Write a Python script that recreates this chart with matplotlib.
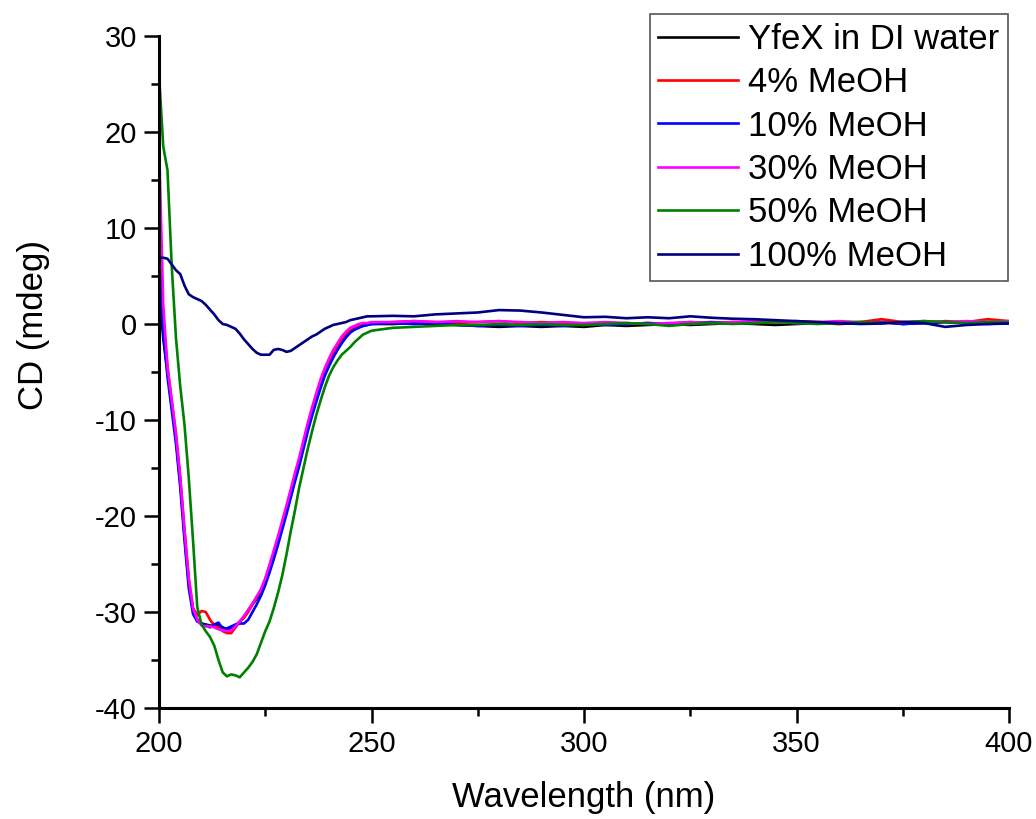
import matplotlib
matplotlib.use("Agg")
import matplotlib.pyplot as plt
from matplotlib.ticker import MultipleLocator

plt.rcParams['font.family'] = ['Liberation Sans', 'DejaVu Sans']
plt.rcParams['axes.unicode_minus'] = False

# Wavelength grid (nm)
wavelength = list(range(200, 251)) + list(range(255, 401, 5))

di_water = [4.0, -1.5, -5.0, -8.5, -12.0, -16.5, -22.0, -27.0, -29.8, -30.8,
            -31.2, -31.3, -31.4, -31.5, -31.3, -31.6, -31.8, -31.7, -31.4, -31.0,
            -30.5, -29.8, -29.2, -28.6, -27.9, -26.8, -25.5, -24.0, -22.5, -21.0,
            -19.3, -17.6, -16.0, -14.4, -12.6, -10.8, -9.2, -7.8, -6.4, -5.2,
            -4.2, -3.3, -2.6, -1.9, -1.3, -0.8, -0.5, -0.3, -0.2, -0.1, 0.0,
            0.0, 0.1, 0.0, -0.1, -0.2, -0.3, -0.2, -0.3, -0.2, -0.3,
            -0.1, -0.2, -0.1, 0.0, -0.1, 0.0, 0.1, 0.0, -0.1, 0.0,
            0.1, 0.0, 0.1, 0.2, 0.0, 0.1, 0.2, 0.1, 0.2, 0.1]

meoh_4 = [12.0, 0.5, -4.5, -8.0, -11.5, -16.0, -21.5, -26.5, -29.6, -30.3,
          -29.9, -30.0, -30.8, -31.4, -31.6, -32.0, -32.2, -32.2, -31.6, -31.0,
          -30.6, -30.0, -29.2, -28.4, -27.8, -26.6, -25.2, -23.8, -22.3, -20.8,
          -19.2, -17.5, -15.8, -14.2, -12.4, -10.6, -9.0, -7.6, -6.2, -5.0,
          -4.0, -3.1, -2.4, -1.7, -1.1, -0.7, -0.4, -0.2, -0.1, 0.0, 0.1,
          0.2, 0.3, 0.2, 0.1, 0.2, 0.3, 0.1, 0.2, 0.1, 0.0,
          0.1, 0.0, 0.1, 0.0, 0.2, 0.1, 0.2, 0.1, 0.2, 0.3,
          0.2, 0.1, 0.2, 0.5, 0.2, 0.1, 0.3, 0.2, 0.5, 0.3]

meoh_10 = [10.5, -1.0, -5.5, -9.0, -12.5, -17.0, -22.5, -27.5, -30.2, -31.0,
           -31.2, -31.4, -31.6, -31.3, -31.1, -31.8, -31.7, -31.5, -31.3, -31.2,
           -31.2, -30.8, -30.0, -29.2, -28.3, -27.2, -25.9, -24.5, -23.0, -21.4,
           -19.8, -18.1, -16.4, -14.8, -13.0, -11.2, -9.6, -8.1, -6.7, -5.4,
           -4.4, -3.5, -2.7, -2.0, -1.4, -0.9, -0.6, -0.4, -0.2, -0.1, 0.0,
           0.1, 0.0, 0.1, -0.1, -0.2, -0.1, -0.2, -0.1, -0.2, 0.0,
           -0.1, 0.0, 0.1, 0.0, 0.1, 0.2, 0.1, 0.2, 0.3, 0.2,
           0.1, 0.2, 0.1, 0.2, 0.0, 0.1, 0.2, 0.1, 0.0, 0.1]

meoh_30 = [19.0, 2.0, -4.5, -8.0, -11.5, -16.0, -21.5, -26.5, -29.6, -30.8,
           -31.4, -31.5, -31.5, -31.6, -31.8, -31.9, -32.0, -31.9, -31.5, -31.0,
           -30.4, -29.8, -29.1, -28.4, -27.6, -26.5, -25.1, -23.6, -22.1, -20.5,
           -18.9, -17.2, -15.5, -13.9, -12.1, -10.3, -8.7, -7.2, -5.8, -4.6,
           -3.6, -2.7, -2.0, -1.3, -0.8, -0.4, -0.2, 0.0, 0.1, 0.1, 0.2,
           0.2, 0.3, 0.2, 0.3, 0.2, 0.3, 0.2, 0.1, 0.2, 0.1,
           0.2, 0.1, 0.0, 0.1, 0.2, 0.1, 0.2, 0.3, 0.2, 0.1,
           0.2, 0.3, 0.2, 0.1, 0.2, 0.3, 0.2, 0.3, 0.2, 0.3]

meoh_50 = [26.0, 18.5, 16.0, 6.0, -1.5, -6.5, -10.5, -16.0, -22.5, -29.5,
           -31.3, -32.0, -32.6, -33.5, -35.0, -36.3, -36.7, -36.5, -36.6, -36.8,
           -36.3, -35.8, -35.2, -34.4, -33.2, -32.0, -31.0, -29.6, -28.0, -26.2,
           -24.0, -21.6, -19.4, -17.0, -15.0, -13.0, -11.2, -9.5, -8.0, -6.6,
           -5.4, -4.5, -3.8, -3.2, -2.8, -2.4, -1.9, -1.5, -1.1, -0.9, -0.7,
           -0.4, -0.3, -0.2, -0.1, -0.1, 0.0, -0.1, 0.0, -0.1, -0.1,
           0.0, 0.1, 0.0, -0.2, 0.0, 0.1, 0.0, 0.1, 0.2, 0.1,
           0.0, 0.1, 0.2, 0.1, 0.2, 0.3, 0.2, 0.1, 0.2, 0.2]

meoh_100 = [6.9, 6.9, 6.8, 6.2, 5.6, 5.2, 4.0, 3.1, 2.8, 2.6,
            2.4, 2.0, 1.5, 1.0, 0.4, 0.0, -0.1, -0.3, -0.5, -1.0,
            -1.6, -2.1, -2.6, -3.0, -3.2, -3.2, -3.2, -2.7, -2.6, -2.7,
            -2.9, -2.8, -2.5, -2.2, -1.9, -1.6, -1.3, -1.1, -0.8, -0.5,
            -0.3, -0.1, 0.0, 0.1, 0.2, 0.4, 0.5, 0.6, 0.7, 0.8, 0.8,
            0.85, 0.8, 1.0, 1.1, 1.2, 1.45, 1.4, 1.2, 0.95, 0.7,
            0.75, 0.6, 0.7, 0.6, 0.8, 0.65, 0.55, 0.5, 0.4, 0.3,
            0.2, 0.1, 0.0, 0.05, 0.2, 0.1, -0.3, -0.1, 0.0, 0.05]

series_labels = ["YfeX in DI water", "4% MeOH", "10% MeOH", "30% MeOH",
                 "50% MeOH", "100% MeOH"]
series_values = [di_water, meoh_4, meoh_10, meoh_30, meoh_50, meoh_100]
series_colors = ["#000000", "#FF0000", "#0000FF", "#FF00FF", "#008000", "#000080"]

x_ticks = [200, 250, 300, 350, 400]
y_ticks = [-40, -30, -20, -10, 0, 10, 20, 30]

fig = plt.figure(figsize=(10.36, 8.19), dpi=100)
ax = fig.add_axes([159/1036, 1 - 708/819, 850/1036, 672/819])

for vals, lab, col in zip(series_values, series_labels, series_colors):
    ax.plot(wavelength, vals, color=col, lw=1.9, label=lab)

ax.set_xlim(200, 400)
ax.set_ylim(-40, 30)
ax.set_xticks(x_ticks)
ax.set_yticks(y_ticks)
ax.xaxis.set_minor_locator(MultipleLocator(25))
ax.yaxis.set_minor_locator(MultipleLocator(5))

for s in ['top', 'right']:
    ax.spines[s].set_visible(False)
for s in ['left', 'bottom']:
    ax.spines[s].set_linewidth(2.2)

ax.tick_params(which='major', direction='out', length=11, width=1.8,
               labelsize=21, pad=5)
ax.tick_params(which='minor', direction='out', length=6, width=1.8)

ax.set_xlabel("Wavelength (nm)", fontsize=25)
ax.set_ylabel("CD (mdeg)", fontsize=25)
ax.xaxis.set_label_coords(0.5, -0.108)
ax.yaxis.set_label_coords(-0.128, 0.57)

leg = fig.legend(loc='upper right', bbox_to_anchor=(1008/1036, 1 - 14/819),
                 fontsize=25, frameon=True, fancybox=False, framealpha=1,
                 edgecolor='#555555', handlelength=2.3, handletextpad=0.28,
                 labelspacing=0.3, borderpad=0.25, borderaxespad=0.0)
leg.get_frame().set_linewidth(1.2)

fig.savefig("out.png", dpi=100)
